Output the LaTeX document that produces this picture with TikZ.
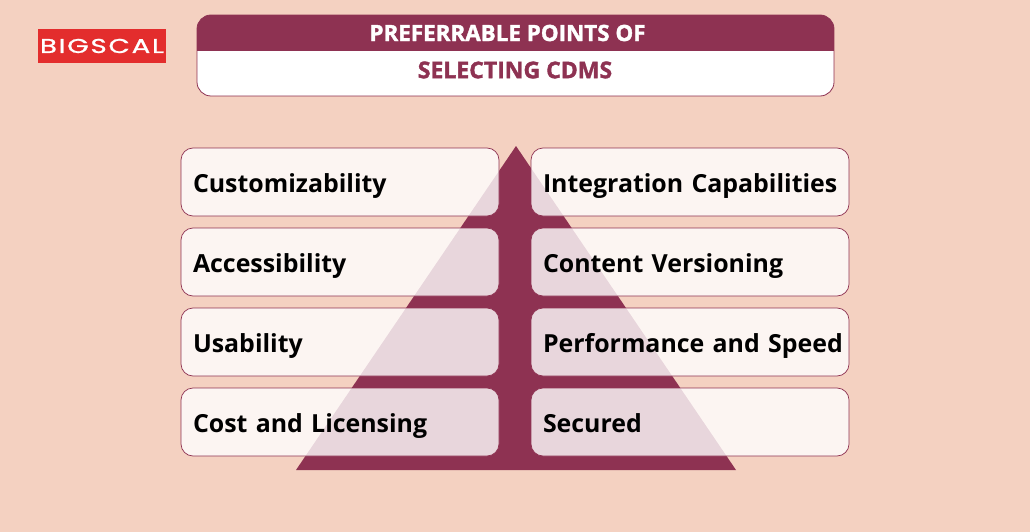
\documentclass[tikz,border=0pt]{standalone}
\usepackage{fontspec}
\usepackage{xcolor}
\setmainfont[WordSpace=0.55]{Open Sans}
\newfontfamily\titlefont[BoldFeatures={FakeBold=1.6}]{Open Sans}
\newfontfamily\logofont[LetterSpace=9,FakeStretch=1.38,FakeBold=1.2]{Poppins}
\definecolor{peach}{HTML}{F4D1C1}
\definecolor{wine}{HTML}{8E3252}
\definecolor{logored}{HTML}{E32D2D}
\newcommand{\boxlabel}[1]{\rlap{#1}}

\begin{document}
\begin{tikzpicture}[x=1pt, y=-1pt, box node/.style={draw=wine, line width=0.7pt, fill=white, fill opacity=0.8, text opacity=1, rounded corners=12, minimum width=318, minimum height=68, inner xsep=12, inner ysep=6, text width=294, text height=22, text depth=2, align=left, font=\fontsize{24.9}{30}\selectfont\bfseries}, title node/.style={font=\fontsize{22.4}{24}\titlefont\bfseries}]
\fill[peach] (0,0) rectangle (1030,532);
\useasboundingbox (0,0) rectangle (1030,532);
% logo
\node[fill=logored, text=white, minimum width=128, minimum height=34, inner sep=0, font=\fontsize{20}{24}\logofont] (logo) at (102,46) {BIGSCAL};
% heading
\begin{scope}
\clip[rounded corners=14] (197,15) rectangle (834,96);
\fill[white] (197,15) rectangle (834,96);
\fill[wine] (197,15) rectangle (834,51);
\end{scope}
\draw[wine, line width=0.8pt, rounded corners=14] (197,15) rectangle (834,96);
\node[title node, text=white] (title1) at (507.5,33) {PREFERRABLE POINTS OF};
\node[title node, text=wine, font=\fontsize{23}{24}\titlefont\bfseries] (title2) at (515,70) {SELECTING CDMS};
% pyramid
\fill[wine] (516,146) -- (736,470) -- (296,470) -- cycle;
% left
\node[box node] (1) at (340,182) {\boxlabel{Customizability}};
\node[box node] (2) at (340,262) {\boxlabel{Accessibility}};
\node[box node] (3) at (340,342) {\boxlabel{Usability}};
\node[box node] (4) at (340,422) {\boxlabel{Cost and Licensing}};
% right
\node[box node] (5) at (690,182) {\boxlabel{Integration Capabilities}};
\node[box node] (6) at (690,262) {\boxlabel{Content Versioning}};
\node[box node] (7) at (690,342) {\boxlabel{Performance and Speed}};
\node[box node] (8) at (690,422) {\boxlabel{Secured}};
\end{tikzpicture}
\end{document}
